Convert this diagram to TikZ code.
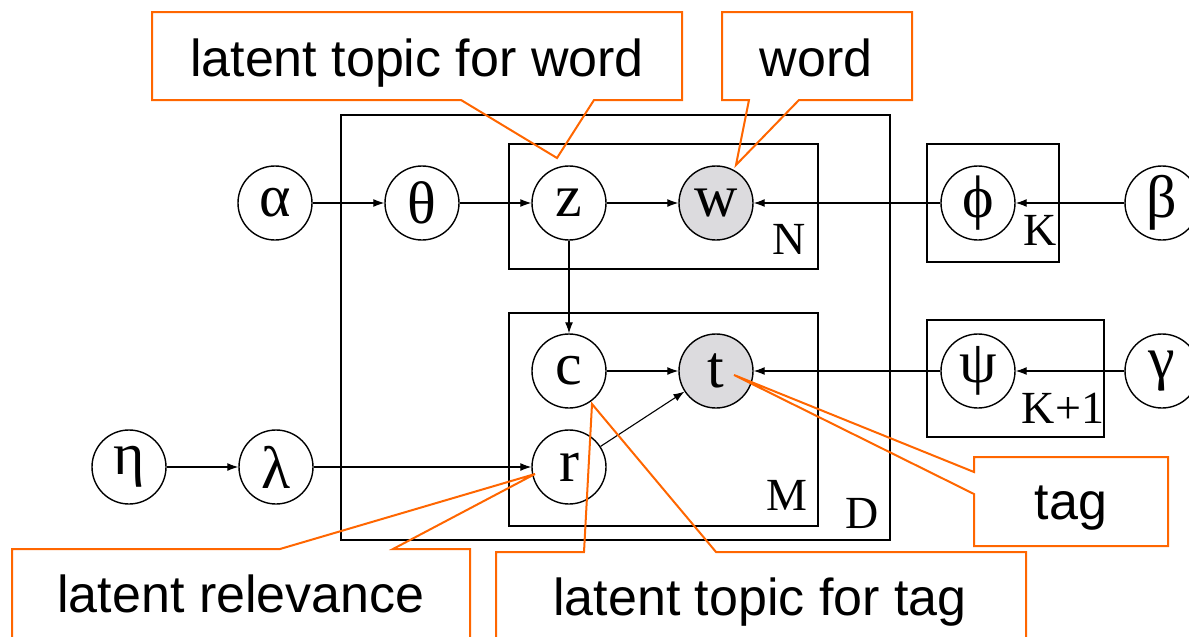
\documentclass[tikz,border=0pt]{standalone}
\usepackage{fontspec}
\setmainfont{Liberation Serif}
\newfontfamily\notefont{Liberation Sans}
\usepackage{xcolor}
\definecolor{obsgray}{HTML}{DCDBDE}
\definecolor{noteorange}{HTML}{FF6600}
\usetikzlibrary{arrows.meta,positioning}

\begin{document}
\begin{tikzpicture}[x=0.5pt,y=-0.5pt,>={Latex[length=5.5pt,width=4pt]},node distance=73.5pt,
                    var/.style={circle,draw,line width=0.7pt,minimum size=37pt,inner sep=0pt,
                                font=\fontsize{30}{30}\selectfont},
                    obs/.style={var,fill=obsgray},
                    plate/.style={draw,line width=0.6pt},
                    platelabel/.style={inner sep=0pt,font=\fontsize{23}{23}\selectfont},
                    link/.style={->,line width=0.55pt},
                    callout/.style={draw=noteorange,line width=1pt,line join=miter},
                    notetext/.style={inner sep=0pt,anchor=base,font=\notefont\fontsize{26}{26}\selectfont},
                ]
  \useasboundingbox (0,0) rectangle (1189,637);

  % plates
  \draw[plate] (341,115) rectangle (890,540);
  \draw[plate] (509,144) rectangle (818,269);
  \draw[plate] (509,313) rectangle (818,526);
  \draw[plate] (927,144) rectangle (1059,262);
  \draw[plate] (927,320) rectangle (1104,437);
  \node[platelabel] (Dlab)  at (862,513)  {D};
  \node[platelabel] (Nlab)  at (789,239)  {N};
  \node[platelabel] (Mlab)  at (787,495)  {M};
  \node[platelabel] (Klab)  at (1040,230) {K};
  \node[platelabel] (K1lab) at (1063,408) {K+1};

  % variables
  \node[var]  (alpha)  at (275,203)       {α};
  \node[var]  (theta)  [right of=alpha]   {θ};
  \node[var]  (z)      [right of=theta]   {z};
  \node[obs]  (w)      [right of=z]       {w};
  \node[var]  (c)      [below of=z,node distance=84pt] {c};
  \node[obs]  (t)      [right of=c]       {t};
  \node[var]  (r)      [below of=c,node distance=48pt] {r};
  \node[var]  (lambda) [left of=r,node distance=146.5pt] {λ};
  \node[var]  (eta)    [left of=lambda]   {η};
  \node[var]  (phi)    at (978,203)       {ϕ};
  \node[var]  (beta)   [right of=phi,node distance=92pt] {β};
  \node[var]  (psi)    at (978,371)       {ψ};
  \node[var]  (gamma)  [right of=psi,node distance=92pt] {γ};

  \path[link] (alpha)  edge (theta)
              (theta)  edge (z)
              (z)      edge (w)
                       edge (c)
              (phi)    edge (w)
              (beta)   edge (phi)
              (c)      edge (t)
              (r)      edge (t)
              (psi)    edge (t)
              (gamma)  edge (psi)
              (eta)    edge (lambda)
              (lambda) edge (r)
              ;

  % callouts
  \coordinate (zTip) at (557,158);
  \coordinate (wTip) at (736,165);
  \coordinate (rTip) at (535,474);
  \coordinate (cTip) at (592,404);
  \coordinate (tTip) at (734,375);

  \draw[callout] (152,12) -- (682,12) -- (682,100) -- (594,100) -- (zTip) -- (461,100) -- (152,100) -- cycle;
  \draw[callout] (722,12) -- (912,12) -- (912,100) -- (799,100) -- (wTip) -- (749,100) -- (722,100) -- cycle;
  \draw[callout] (12,637) -- (12,549) -- (280,549) -- (rTip) -- (393,549) -- (470,549) -- (470,637);
  \draw[callout] (496,637) -- (496,552) -- (584,552) -- (cTip) -- (716,552) -- (1026,552) -- (1026,637);
  \draw[callout] (974,457) -- (1168,457) -- (1168,546) -- (974,546) -- (974,494) -- (tTip) -- (974,472) -- cycle;

  \node[notetext] (zNote) at (417,76)  {latent topic for word};
  \node[notetext] (wNote) at (816,76)  {word};
  \node[notetext] (rNote) at (241,612) {latent relevance};
  \node[notetext] (cNote) at (760,615) {latent topic for tag};
  \node[notetext] (tNote) at (1071,519) {tag};
\end{tikzpicture}
\end{document}
